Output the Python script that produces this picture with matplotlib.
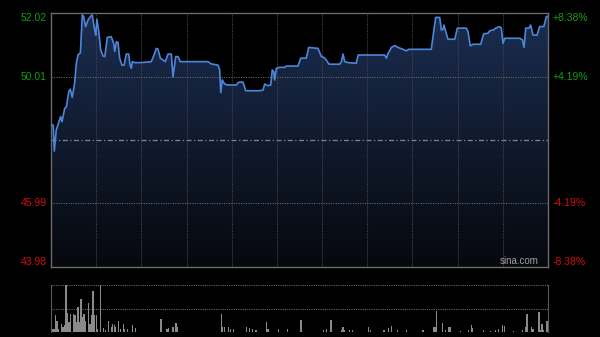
import matplotlib
matplotlib.use("Agg")
import matplotlib.pyplot as plt
import numpy as np
from matplotlib.colors import LinearSegmentedColormap
from matplotlib.patches import Polygon

plt.rcParams['font.family'] = ['Liberation Sans', 'DejaVu Sans']

# intraday price (minutes since open, 330 trading minutes)
prev_close = 48.005
price_ticks = [52.02, 50.01, 45.99, 43.98]
pct_labels = ["+8.38%", "+4.19%", "-4.19%", "-8.38%"]

minutes = [0, 1.5, 2.2, 3.5, 6.4, 7.3, 9.1, 10.2, 11.8, 12.8, 14.1, 15.7, 16.8, 17.9, 19.5,
           20.8, 21.7, 23.0, 24.6, 26.4, 27.4, 29.0, 29.7, 30.5, 31.7, 33.0, 34.5, 35.7, 37.4,
           40.0, 41.6, 42.3, 43.4, 44.5, 45.6, 47.1, 48.5, 50.0, 51.6, 52.5, 53.3, 54.0, 55.6,
           60.0, 66.6, 68.4, 69.9, 71.0, 72.6, 74.4, 75.9, 77.7, 79.9, 81.0, 82.8, 84.3, 85.9,
           104.2, 106.4, 110.9, 112.0, 112.7, 113.7, 115.3, 117.5, 123.0, 124.6, 127.5, 129.3,
           138.6, 140.8, 141.9, 144.1, 145.9, 146.9, 147.9, 148.5, 149.6, 151.9, 155.2, 156.2,
           164.0, 165.8, 169.5, 171.1, 177.3, 179.5, 181.3, 182.8, 184.6, 191.7, 192.8, 193.9,
           195.0, 197.2, 202.7, 203.9, 221.6, 222.7, 223.8, 226.0, 228.2, 230.4, 233.7, 235.9,
           237.5, 247.0, 252.5, 255.4, 258.1, 259.2, 260.3, 260.9, 262.1, 263.6, 268.1, 269.8,
           275.8, 276.9, 278.4, 280.2, 285.3, 287.3, 290.2, 291.3, 293.5, 295.7, 297.9, 299.0,
           300.1, 301.3, 311.2, 313.0, 314.1, 315.2, 317.4, 318.5, 320.1, 322.7, 324.5, 327.2,
           328.9, 330.0]
prices = [48.47, 48.47, 47.65, 48.32, 48.74, 48.58, 49.00, 49.05, 49.53, 49.61, 49.35, 49.80, 50.43, 50.69, 50.76,
          51.96, 51.90, 51.59, 51.80, 51.92, 51.96, 51.48, 51.32, 51.82, 51.43, 50.85, 50.66, 50.64, 51.25,
          51.27, 51.06, 50.80, 51.11, 51.09, 50.59, 50.37, 50.37, 50.72, 50.72, 50.37, 50.27, 50.48, 50.45,
          50.45, 50.48, 50.69, 50.90, 50.88, 50.59, 50.53, 50.48, 50.72, 50.72, 50.00, 50.64, 50.64, 50.48,
          50.48, 50.41, 50.37, 50.22, 49.50, 49.90, 49.77, 49.74, 49.74, 49.83, 49.83, 49.56,
          49.56, 49.58, 49.77, 49.72, 49.74, 50.22, 50.16, 49.90, 50.27, 50.30, 50.30, 50.34,
          50.34, 50.59, 50.59, 50.93, 50.90, 50.64, 50.61, 50.53, 50.40, 50.40, 50.48, 50.72,
          50.48, 50.45, 50.43, 50.69, 50.69, 50.59, 50.74, 50.93, 50.99, 50.93, 50.87, 50.82,
          50.87, 50.87, 50.87, 51.88, 51.88, 51.48, 51.50, 51.64, 51.43, 51.19, 51.19, 51.54,
          51.54, 51.43, 50.98, 51.03, 51.03, 51.36, 51.38, 51.46, 51.48, 51.55, 51.59, 51.54,
          51.06, 51.22, 51.22, 51.17, 50.93, 51.54, 51.54, 51.64, 51.32, 51.32, 51.59, 51.59,
          51.90, 51.92]

# volume per minute (relative units, max = 100)
vol_minutes = [0, 1, 2, 3, 4, 5, 7, 8, 9, 10, 11, 12, 13, 15, 16, 17, 18, 19, 20, 21, 22, 23,
               25, 26, 27, 28, 29, 30, 31, 33, 35, 36, 38, 40, 41, 42, 43, 45, 46, 48, 49, 51,
               54, 56, 73, 77, 78, 81, 83, 84, 113, 114, 115, 118, 119, 121, 130, 132, 134, 136,
               143, 144, 151, 157, 166, 181, 183, 186, 193, 194, 195, 198, 200, 211, 212, 221,
               224, 226, 230, 236, 247, 254, 255, 256, 260, 262, 264, 265, 272, 277, 279, 280,
               287, 292, 295, 297, 300, 301, 307, 313, 315, 316, 319, 320, 324, 325, 326, 327,
               329, 330]
vol_values = [11, 7, 7, 36, 23, 7, 16, 11, 14, 100, 41, 21, 39, 38, 36, 21, 54, 21, 71, 32, 38, 23,
              62, 18, 36, 87, 36, 36, 7, 100, 8, 4, 23, 11, 18, 14, 11, 23, 7, 16, 6, 6,
              14, 9, 27, 7, 9, 11, 20, 11, 38, 11, 11, 11, 7, 7, 11, 9, 7, 5,
              21, 7, 7, 7, 26, 5, 6, 26, 5, 10, 5, 5, 5, 11, 5, 5,
              8, 13, 4, 4, 4, 11, 10, 45, 20, 5, 11, 10, 3, 5, 15, 8,
              5, 3, 5, 6, 15, 13, 3, 5, 10, 38, 11, 6, 43, 5, 16, 5,
              24, 24]

fig = plt.figure(figsize=(6, 3.37), dpi=100, facecolor='black')
ax = fig.add_axes([51 / 600, 1 - 267 / 337, 497 / 600, 254 / 337])
axv = fig.add_axes([51 / 600, 1 - 332 / 337, 497 / 600, 47 / 337])

ymin, ymax = price_ticks[-1], price_ticks[0]
ax.set_facecolor('black')
ax.set_xlim(0, 330)
ax.set_ylim(ymin, ymax)

# gradient area under the price line
cmap = LinearSegmentedColormap.from_list('fill', ['#06080d', '#1b2d50'])
grad = np.linspace(0, 1, 256).reshape(-1, 1)
im = ax.imshow(grad, cmap=cmap, origin='lower', aspect='auto',
               extent=[0, 330, ymin, ymax], zorder=1)
verts = [(minutes[0], ymin)] + list(zip(minutes, prices)) + [(minutes[-1], ymin)]
clip = Polygon(verts, closed=True, facecolor='none', edgecolor='none')
ax.add_patch(clip)
im.set_clip_path(clip)

for m in range(30, 330, 30):
    ax.axvline(m, color='#444444', lw=0.8, ls=(0, (1, 1)), zorder=2)
for p in price_ticks[1:3]:
    ax.axhline(p, color='#777777', lw=0.7, ls=(0, (1, 1.5)), zorder=2)
ax.axhline(prev_close, color='#7d8896', lw=0.9, ls=(0, (4, 2, 1, 2)), zorder=2)

ax.plot(minutes, prices, color='#4d86d8', lw=1.2, zorder=3)

ax.set_xticks([])
ax.set_yticks([])
for s in ax.spines.values():
    s.set_color('#6a6a6a')
    s.set_linewidth(1)

trans = ax.get_yaxis_transform()
colors = ['#0fa00f', '#0fa00f', '#d01010', '#d01010']
vas = ['top', 'center', 'center', 'bottom']
for p, lab, c, va in zip(price_ticks, pct_labels, colors, vas):
    ax.text(-0.008, p, f"{p:.2f}", transform=trans, ha='right', va=va,
            color=c, fontsize=7.5)
    ax.text(1.01, p, lab, transform=trans, ha='left', va=va,
            color=c, fontsize=7.5)

ax.text(0.981, 0.005, "sina.com", transform=ax.transAxes, ha='right', va='bottom',
        color='#a0a0a0', fontsize=7, zorder=4)

# volume panel
axv.set_facecolor('black')
axv.set_xlim(0, 330)
axv.set_ylim(0, 100)
axv.bar(vol_minutes, vol_values, width=0.9, color='#8a8a8a', zorder=2)
for v in [0, 50, 100]:
    axv.axhline(v, color='#666666', lw=0.8, ls=(0, (1, 1)), zorder=1)
axv.set_xticks([])
axv.set_yticks([])
for k in ['top', 'bottom']:
    axv.spines[k].set_visible(False)
for k in ['left', 'right']:
    axv.spines[k].set_color('#5a5a5a')

fig.savefig('out.png', dpi=100, facecolor='black')
